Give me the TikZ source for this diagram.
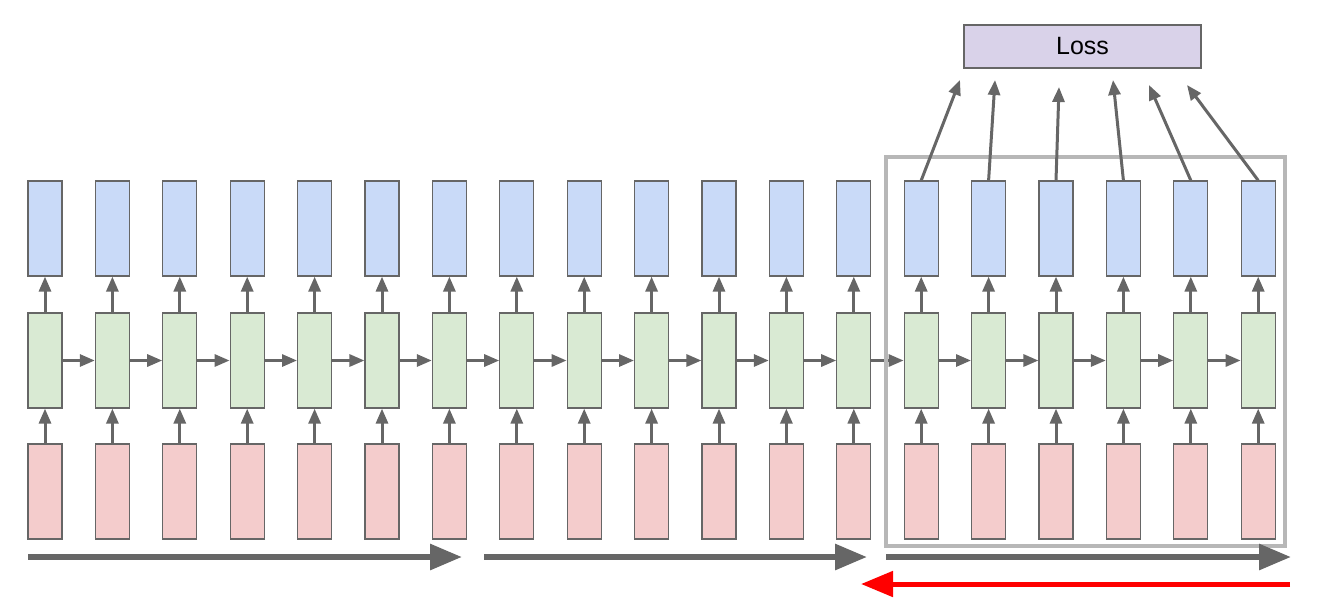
\documentclass[tikz,border=0pt]{standalone}
\usepackage{fontspec}
\setmainfont{Liberation Sans}
\usetikzlibrary{arrows.meta}

\definecolor{outblue}{HTML}{C9DAF8}
\definecolor{hidgreen}{HTML}{D9EAD3}
\definecolor{inred}{HTML}{F4CCCC}
\definecolor{losspurple}{HTML}{D9D2E9}
\definecolor{edgegray}{HTML}{666666}
\definecolor{framegray}{HTML}{B7B7B7}

\begin{document}
\begin{tikzpicture}[x=1pt,y=-1pt,
        cell/.style={draw=edgegray, line width=1.2pt, minimum width=34pt, minimum height=95pt, inner sep=0pt},
        flow/.style={draw=edgegray, line width=3pt, -{Triangle[length=15pt,width=12pt]}},
        bigflow/.style={draw=edgegray, line width=6pt, -{Triangle[length=32pt,width=25pt]}},
        backflow/.style={draw=red, line width=5pt, -{Triangle[length=32pt,width=25pt]}}]
        \useasboundingbox (0,0) rectangle (1324,598);
        % kolommen
        \foreach \i in {0,...,18} {
            \pgfmathsetmacro{\xc}{45+67.4*\i}
            \node[cell, fill=inred] (r\i) at (\xc,491.5) {};
            \node[cell, fill=hidgreen] (h\i) at (\xc,360.5) {};
            \node[cell, fill=outblue] (b\i) at (\xc,228.5) {};
            \draw[flow] (r\i) -- (h\i);
            \draw[flow] (h\i) -- (b\i);
        }
        \foreach \i [evaluate=\i as \j using int(\i+1)] in {0,...,17}
            \draw[flow] (h\i) -- (h\j);
        % venster
        \draw[framegray, line width=4pt] (886,157) rectangle (1285,546);
        % loss
        \node[draw=edgegray, line width=1.2pt, fill=losspurple, minimum width=237pt, minimum height=43pt] (loss) at (1082.5,46.5) {\fontsize{25}{30}\selectfont Loss};
        \coordinate (l13) at (960,80);
        \coordinate (l14) at (995,80);
        \coordinate (l15) at (1059,87);
        \coordinate (l16) at (1113,80);
        \coordinate (l17) at (1149,85);
        \coordinate (l18) at (1187,85);
        \foreach \i in {13,...,18}
            \draw[flow] (b\i.north) -- (l\i);
        % tijdpijlen
        \coordinate (t0) at (28,557);
        \coordinate (t1) at (462,557);
        \coordinate (t2) at (484,557);
        \coordinate (t3) at (867,557);
        \coordinate (t4) at (886,557);
        \coordinate (t5) at (1291,557);
        \draw[bigflow] (t0) -- (t1);
        \draw[bigflow] (t2) -- (t3);
        \draw[bigflow] (t4) -- (t5);
        \coordinate (g0) at (1290,584);
        \coordinate (g1) at (861,584);
        \draw[backflow] (g0) -- (g1);
    \end{tikzpicture}
\end{document}
